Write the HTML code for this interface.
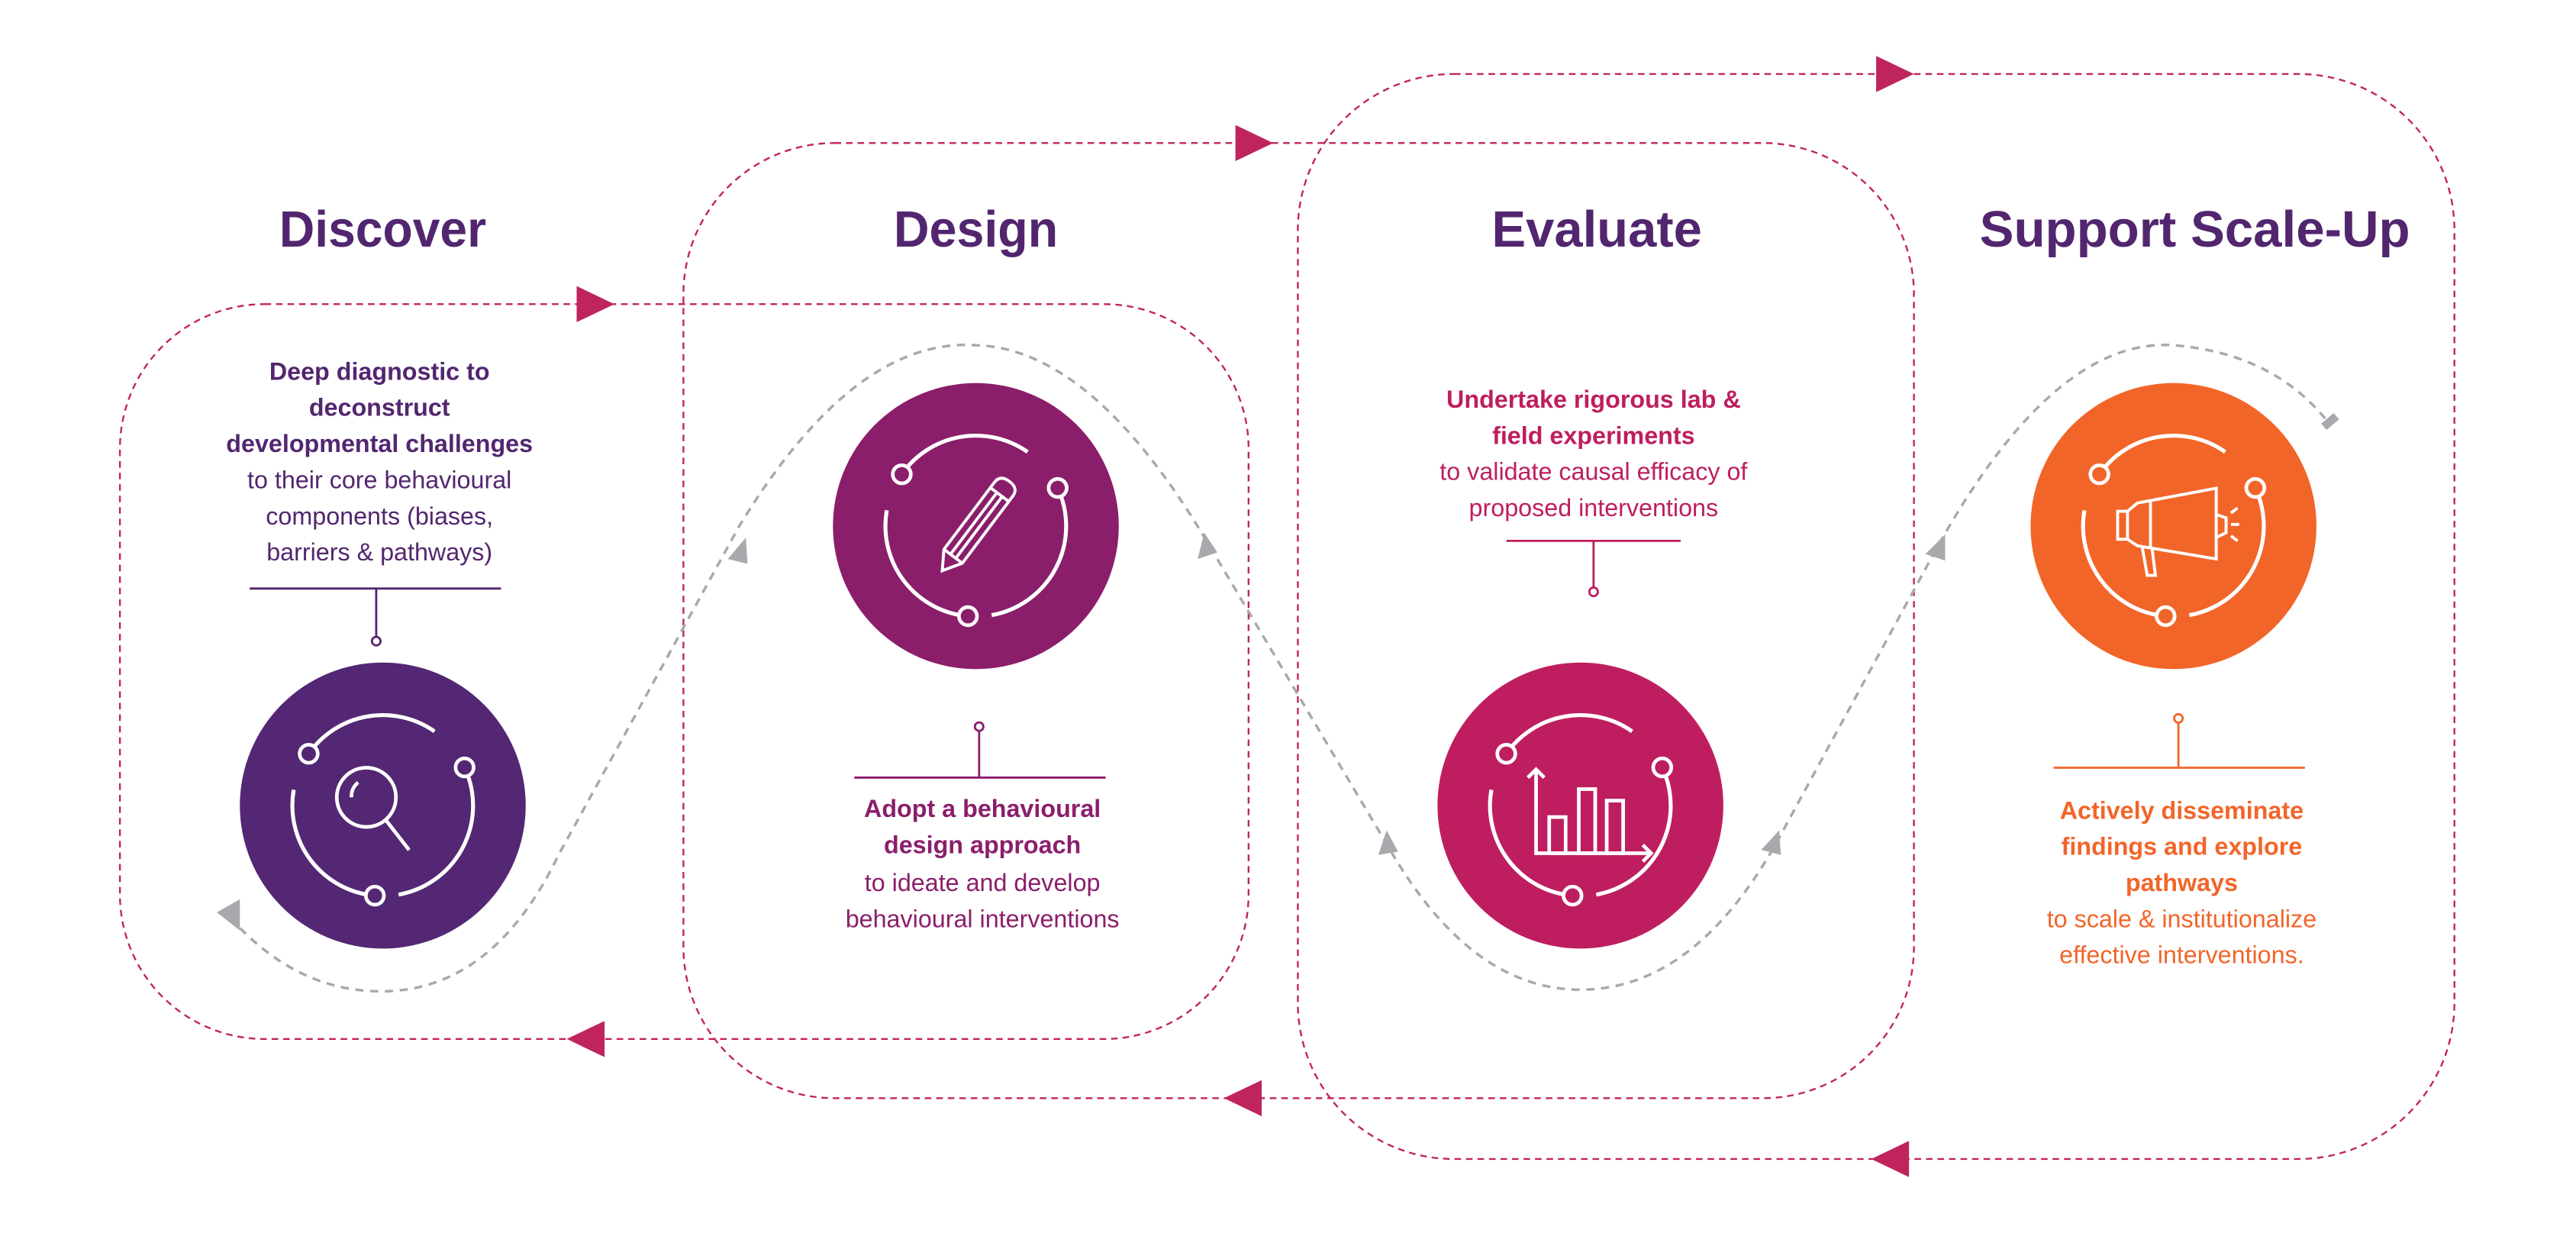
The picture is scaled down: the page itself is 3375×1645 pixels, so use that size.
<!DOCTYPE html>
<html><head><meta charset="utf-8"><style>
html,body{margin:0;padding:0;background:#fff;}
svg{display:block;}
text{font-family:"Liberation Sans",sans-serif;}
</style></head><body>
<svg width="3375" height="1645" viewBox="0 0 1568 764" preserveAspectRatio="none" xmlns="http://www.w3.org/2000/svg">
<defs>
<g id="ring" fill="none" stroke="#fff" stroke-width="2.4">
<path d="M-45.1 -31.5 A55 55 0 0 1 31.5 -45.1"/>
<path d="M49.8 -23.2 A55 55 0 0 1 9.6 54.2"/>
<path d="M-4.8 54.8 A55 55 0 0 1 -54.2 -9.6"/>
</g>
</defs>
<g fill="none" stroke="#c0245e" stroke-width="1.1" stroke-dasharray="4 3">
<rect x="73" y="185" width="687" height="447" rx="88"/>
<rect x="416" y="87" width="749" height="581" rx="92"/>
<rect x="790" y="45" width="704" height="660" rx="95"/>
</g>
<g fill="#c0245e">
<polygon points="351,174 374,185 351,196"/>
<polygon points="752,76 775,87 752,98"/>
<polygon points="1142,34 1165,45 1142,56"/>
<polygon points="368,621 345,632 368,643"/>
<polygon points="768,657 745,668 768,679"/>
<polygon points="1162,694 1139,705 1162,716"/>
</g>
<path d="M140,558 Q180,603 232,603 Q300,603 340,520 L450,320 Q520,205 594,210 Q665,212 735,330 L845,515 Q895,602 962,602 Q1030,602 1080,515 L1178,335 Q1250,205 1323,210 Q1385,215 1418,258" fill="none" stroke="#a8a9ad" stroke-width="1.6" stroke-dasharray="5 4"/>
<g fill="#a8a9ad">
<polygon points="132,555 146,547 146,566"/>
<polygon points="454,327 443,340 455,343"/>
<polygon points="733,324 729,340 741,336"/>
<polygon points="844,505 839,520 851,518"/>
<polygon points="1083,505 1072,517 1084,520"/>
<polygon points="1184,325 1172,337 1184,341"/>
<rect x="1413" y="254" width="10" height="5" transform="rotate(-40 1418 256)"/>
</g>
<g font-weight="bold" fill="#52266f" font-size="31" text-anchor="middle">
<text x="233" y="150" textLength="126" lengthAdjust="spacingAndGlyphs">Discover</text>
<text x="594" y="150" textLength="100" lengthAdjust="spacingAndGlyphs">Design</text>
<text x="972" y="150" textLength="128" lengthAdjust="spacingAndGlyphs">Evaluate</text>
<text x="1336" y="150" textLength="262" lengthAdjust="spacingAndGlyphs">Support Scale-Up</text>
</g>
<g fill="#52266f" font-size="15" text-anchor="middle">
<text x="231" y="231" font-weight="bold">Deep diagnostic to</text>
<text x="231" y="253" font-weight="bold">deconstruct</text>
<text x="231" y="275" font-weight="bold">developmental challenges</text>
<text x="231" y="297">to their core behavioural</text>
<text x="231" y="319">components (biases,</text>
<text x="231" y="341">barriers &amp; pathways)</text>
</g>
<g stroke="#52266f" stroke-width="1.3" fill="#fff"><line x1="152" y1="358" x2="305" y2="358"/><line x1="229" y1="358" x2="229" y2="387"/><circle cx="229" cy="390" r="2.6"/></g>
<g fill="#8b1e6b" font-size="15" text-anchor="middle">
<text x="598" y="497" font-weight="bold">Adopt a behavioural</text>
<text x="598" y="519" font-weight="bold">design approach</text>
<text x="598" y="542">to ideate and develop</text>
<text x="598" y="564">behavioural interventions</text>
</g>
<g stroke="#8b1e6b" stroke-width="1.3" fill="#fff"><line x1="520" y1="473" x2="673" y2="473"/><line x1="596" y1="445" x2="596" y2="473"/><circle cx="596" cy="442" r="2.6"/></g>
<g fill="#be1e5f" font-size="15" text-anchor="middle">
<text x="970" y="248" font-weight="bold">Undertake rigorous lab &amp;</text>
<text x="970" y="270" font-weight="bold">field experiments</text>
<text x="970" y="292">to validate causal efficacy of</text>
<text x="970" y="314">proposed interventions</text>
</g>
<g stroke="#be1e5f" stroke-width="1.3" fill="#fff"><line x1="917" y1="329" x2="1023" y2="329"/><line x1="970" y1="329" x2="970" y2="357"/><circle cx="970" cy="360" r="2.6"/></g>
<g fill="#f26529" font-size="15" text-anchor="middle">
<text x="1328" y="498" font-weight="bold">Actively disseminate</text>
<text x="1328" y="520" font-weight="bold">findings and explore</text>
<text x="1328" y="542" font-weight="bold">pathways</text>
<text x="1328" y="564">to scale &amp; institutionalize</text>
<text x="1328" y="586">effective interventions.</text>
</g>
<g stroke="#f26529" stroke-width="1.3" fill="#fff"><line x1="1250" y1="467" x2="1403" y2="467"/><line x1="1326" y1="440" x2="1326" y2="467"/><circle cx="1326" cy="437" r="2.6"/></g>

<g transform="translate(233,490)">
<circle r="87" fill="#532773"/><use href="#ring"/>
<g fill="#532773" stroke="#fff" stroke-width="2.2"><circle cx="-45.1" cy="-31.5" r="5.5"/><circle cx="49.8" cy="-23.2" r="5.5"/><circle cx="-4.8" cy="54.8" r="5.5"/></g>
<g fill="none" stroke="#fff" stroke-width="2.2"><circle cx="-10" cy="-5" r="18"/><line x1="2" y1="9" x2="16" y2="27"/><path d="M-19 -5 A10 10 0 0 1 -15 -14"/></g>
</g>
<g transform="translate(594,320)">
<circle r="87" fill="#8b1e6b"/><use href="#ring"/>
<g fill="#8b1e6b" stroke="#fff" stroke-width="2.2"><circle cx="-45.1" cy="-31.5" r="5.5"/><circle cx="49.8" cy="-23.2" r="5.5"/><circle cx="-4.8" cy="54.8" r="5.5"/></g>
<g fill="none" stroke="#fff" stroke-width="1.8" transform="rotate(-53)"><path d="M-34 0 L-23 -7 L28 -7 Q34 -7 34 0 Q34 7 28 7 L-23 7 Z"/><line x1="-23" y1="-7" x2="-23" y2="7"/><line x1="-23" y1="-2" x2="24" y2="-2"/><line x1="-23" y1="2" x2="24" y2="2"/><line x1="24" y1="-7" x2="24" y2="7"/></g>
</g>
<g transform="translate(962,490)">
<circle r="87" fill="#be1e5f"/><use href="#ring"/>
<g fill="#be1e5f" stroke="#fff" stroke-width="2.2"><circle cx="-45.1" cy="-31.5" r="5.5"/><circle cx="49.8" cy="-23.2" r="5.5"/><circle cx="-4.8" cy="54.8" r="5.5"/></g>
<g fill="none" stroke="#fff" stroke-width="2.2"><path d="M-27 -22 L-27 29 L43 29"/><path d="M-32 -17 L-27 -22 L-22 -17"/><path d="M38 24 L43 29 L38 34"/><rect x="-19" y="7" width="10" height="22"/><rect x="-1" y="-10" width="10" height="39"/><rect x="16" y="-3" width="10" height="32"/></g>
</g>
<g transform="translate(1323,320)">
<circle r="87" fill="#f26529"/><use href="#ring"/>
<g fill="#f26529" stroke="#fff" stroke-width="2.2"><circle cx="-45.1" cy="-31.5" r="5.5"/><circle cx="49.8" cy="-23.2" r="5.5"/><circle cx="-4.8" cy="54.8" r="5.5"/></g>
<g fill="none" stroke="#fff" stroke-width="1.8"><rect x="-34" y="-9" width="6" height="17"/><path d="M-28 -9 L-22 -14 L26 -23 L26 20 L-22 12 L-28 8"/><line x1="-14" y1="-15" x2="-14" y2="13"/><path d="M26 -7 L32 -5 L32 4 L26 7"/><path d="M-19 13 L-16 30 L-11 30 L-13 14"/><line x1="35" y1="-8" x2="39" y2="-11"/><line x1="35" y1="-1" x2="40" y2="-1"/><line x1="35" y1="6" x2="39" y2="9"/></g>
</g>
</svg>
</body></html>
